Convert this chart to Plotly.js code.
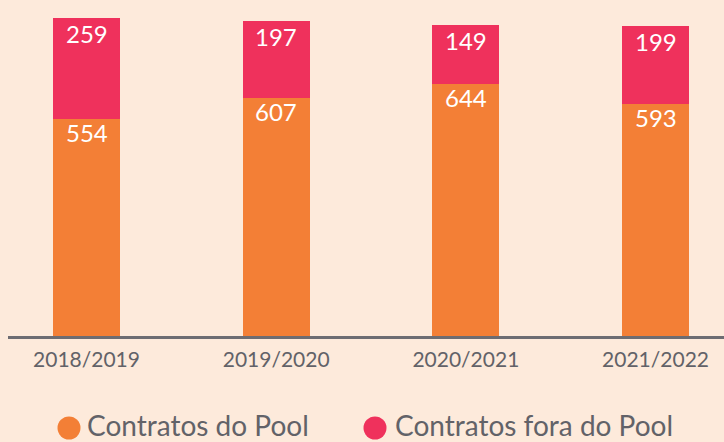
<!DOCTYPE html>
<html>
<head>
<meta charset="utf-8">
<script src="https://cdn.plot.ly/plotly-3.0.1.min.js"></script>
<style>html,body{margin:0;padding:0;background:#fdeadb;}#chart{width:724px;height:442px;}</style>
</head>
<body>
<div id="chart"></div>
<script>
const categories = ["2018/2019", "2019/2020", "2020/2021", "2021/2022"];
const poolValues = [554, 607, 644, 593];
const foraValues = [259, 197, 149, 199];
const seriesNames = ["Contratos do Pool", "Contratos fora do Pool"];

const W = 724, H = 442;
const M = {l: 8, r: 0, t: 0, b: 106};
const PW = W - M.l - M.r, PH = H - M.t - M.b;
const BG = "#fdeadb", ORANGE = "#f37f36", PINK = "#ef315c", GREY = "#626268", LINE = "#6d6c72";
const px2paperX = p => (p - M.l) / PW;
const px2paperY = p => (M.t + PH - p) / PH;

const traces = [
  {type: "bar", name: seriesNames[0], x: categories, y: poolValues, marker: {color: ORANGE}, showlegend: false, hoverinfo: "skip"},
  {type: "bar", name: seriesNames[1], x: categories, y: foraValues, marker: {color: PINK}, showlegend: false, hoverinfo: "skip"}
];

const annotations = [];
categories.forEach((c, i) => {
  annotations.push({x: c, y: poolValues[i], xref: "x", yref: "y", text: String(poolValues[i]), showarrow: false,
    yanchor: "top", xanchor: "center", yshift: 3, font: {family: "Lato", size: 24, color: "#ffffff"}});
  annotations.push({x: c, y: poolValues[i] + foraValues[i], xref: "x", yref: "y", text: String(foraValues[i]), showarrow: false,
    yanchor: "top", xanchor: "center", yshift: 1, font: {family: "Lato", size: 24, color: "#ffffff"}});
});

const legendItems = [
  {name: seriesNames[0], color: ORANGE, cx: 69, tx: 86},
  {name: seriesNames[1], color: PINK, cx: 375, tx: 394}
];
const shapes = [];
legendItems.forEach(it => {
  shapes.push({type: "circle", xref: "paper", yref: "paper", xsizemode: "pixel", ysizemode: "pixel",
    xanchor: px2paperX(it.cx), yanchor: px2paperY(428), x0: -11.5, x1: 11.5, y0: -11.5, y1: 11.5,
    fillcolor: it.color, line: {width: 0}});
  annotations.push({xref: "paper", yref: "paper", x: px2paperX(it.tx), y: px2paperY(425), xanchor: "left", yanchor: "middle",
    borderpad: 0, text: it.name, showarrow: false, font: {family: "Lato", size: 28, color: GREY}});
});

const layout = {
  width: W, height: H,
  margin: M,
  paper_bgcolor: BG, plot_bgcolor: BG,
  barmode: "stack", bargap: 0.647,
  showlegend: false,
  xaxis: {type: "category", range: [-0.414, 3.361], showline: true, linewidth: 3, linecolor: LINE,
    showgrid: false, zeroline: false, ticks: "", ticklabelstandoff: 3,
    tickfont: {family: "Lato", size: 21, color: GREY}, fixedrange: true},
  yaxis: {range: [0, 858], visible: false, showgrid: false, zeroline: false, fixedrange: true},
  annotations: annotations,
  shapes: shapes
};

Plotly.newPlot("chart", traces, layout, {displayModeBar: false, staticPlot: true});
</script>
</body>
</html>
